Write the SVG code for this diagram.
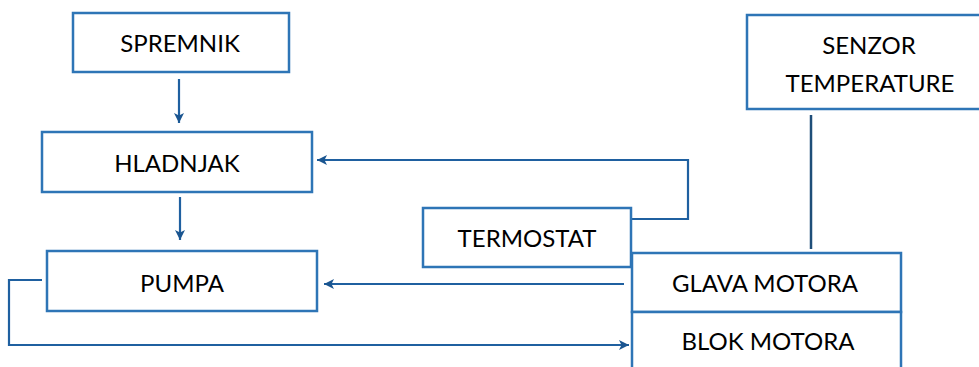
<svg xmlns="http://www.w3.org/2000/svg" width="979" height="367" viewBox="0 0 979 367">
<style>
.box{fill:#fff;stroke:#2E75B6;stroke-width:2.5}
.lbl{font-family:Lato,"Open Sans","Liberation Sans",sans-serif;font-size:24px;fill:#000;text-anchor:middle}
.con{fill:none;stroke:#1F60A0;stroke-width:2.2}
.dark{fill:none;stroke:#1F4E79;stroke-width:2.5}
</style>
<defs>
<marker id="ah" viewBox="0 0 10 10" refX="10" refY="5" markerWidth="10" markerHeight="10" markerUnits="userSpaceOnUse" orient="auto">
<path d="M0,0 L10,5 L0,10 L2.5,5 Z" fill="#1A5590"/>
</marker>
</defs>
<g id="connectors">
<line class="con" x1="179" y1="79" x2="179" y2="123" marker-end="url(#ah)"/>
<line class="con" x1="180" y1="197" x2="180" y2="240" marker-end="url(#ah)"/>
<polyline class="con" points="631,219 688,219 688,160 317,160" marker-end="url(#ah)"/>
<line class="con" x1="624" y1="284" x2="324" y2="284" marker-end="url(#ah)"/>
<polyline class="con" points="42,280 9,280 9,345 629,345" marker-end="url(#ah)"/>
<line class="dark" x1="811" y1="115" x2="811" y2="249"/>
</g>
<g id="spremnik">
<rect class="box" x="73" y="13" width="216" height="59"/>
<text class="lbl" x="180" y="52">SPREMNIK</text>
</g>
<g id="hladnjak">
<rect class="box" x="42" y="132" width="270" height="60"/>
<text class="lbl" x="177" y="172">HLADNJAK</text>
</g>
<g id="pumpa">
<rect class="box" x="47" y="251" width="270" height="60"/>
<text class="lbl" x="182" y="292">PUMPA</text>
</g>
<g id="termostat">
<rect class="box" x="423" y="208" width="208" height="59"/>
<text class="lbl" x="527" y="247">TERMOSTAT</text>
</g>
<g id="senzor">
<rect class="box" x="747" y="15" width="245" height="94"/>
<text class="lbl" x="869" y="54">SENZOR</text>
<text class="lbl" x="870" y="92">TEMPERATURE</text>
</g>
<g id="glava">
<rect class="box" x="632" y="253" width="269" height="59"/>
<text class="lbl" x="765" y="292">GLAVA MOTORA</text>
</g>
<g id="blok">
<rect class="box" x="632" y="312" width="269" height="60"/>
<text class="lbl" x="768" y="350">BLOK MOTORA</text>
</g>
</svg>
